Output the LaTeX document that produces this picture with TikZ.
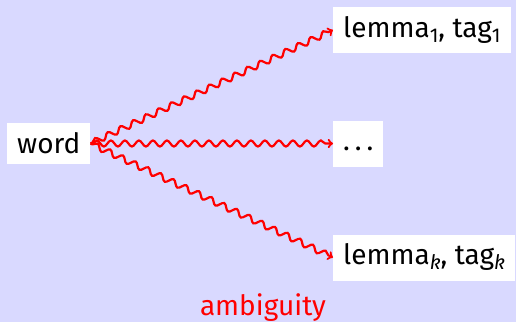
\documentclass[tikz,border=0pt]{standalone}
\usepackage{fontspec}
\setmainfont{Fira Sans}
\usetikzlibrary{decorations.pathmorphing}

\newcommand{\lowsub}[1]{\raisebox{-5pt}{\fontsize{20}{20}\selectfont #1}}

\begin{document}
\begin{tikzpicture}[x=1pt, y=-1pt, >=to,
    every node/.style={font=\fontsize{28}{34}\selectfont},
    box/.style={fill=white, inner sep=10pt, anchor=west},
    outbox/.style={box, text height=20pt, text depth=6pt},
    wave/.style={red, line width=2.2pt, ->, decorate,
      decoration={snake, amplitude=3pt, segment length=14pt, pre length=2pt, post length=4pt}}]
  % background
  \fill[blue!15] (0,0) rectangle (516,322);
  \useasboundingbox (0,0) rectangle (516,322);

  % the word
  \node[box] (word) at (7,143.5) {word};

  % possible readings
  \node[outbox] (first) at (333,30) {lemma\lowsub{1}, tag\lowsub{1}};
  \node[outbox] (dots) at (333,143.5) {.\hspace{5pt}.\hspace{5pt}.};
  \node[outbox] (last) at (333,257.5) {lemma\lowsub{\itshape k}, tag\lowsub{\itshape k}};

  % wavy arrows
  \draw[wave] (word.east) -- (first.west);
  \draw[wave] (word.east) -- (dots.west);
  \draw[wave] (word.east) -- (last.west);

  \node[red, anchor=base] (amb) at (263,315) {ambiguity};
\end{tikzpicture}
\end{document}
